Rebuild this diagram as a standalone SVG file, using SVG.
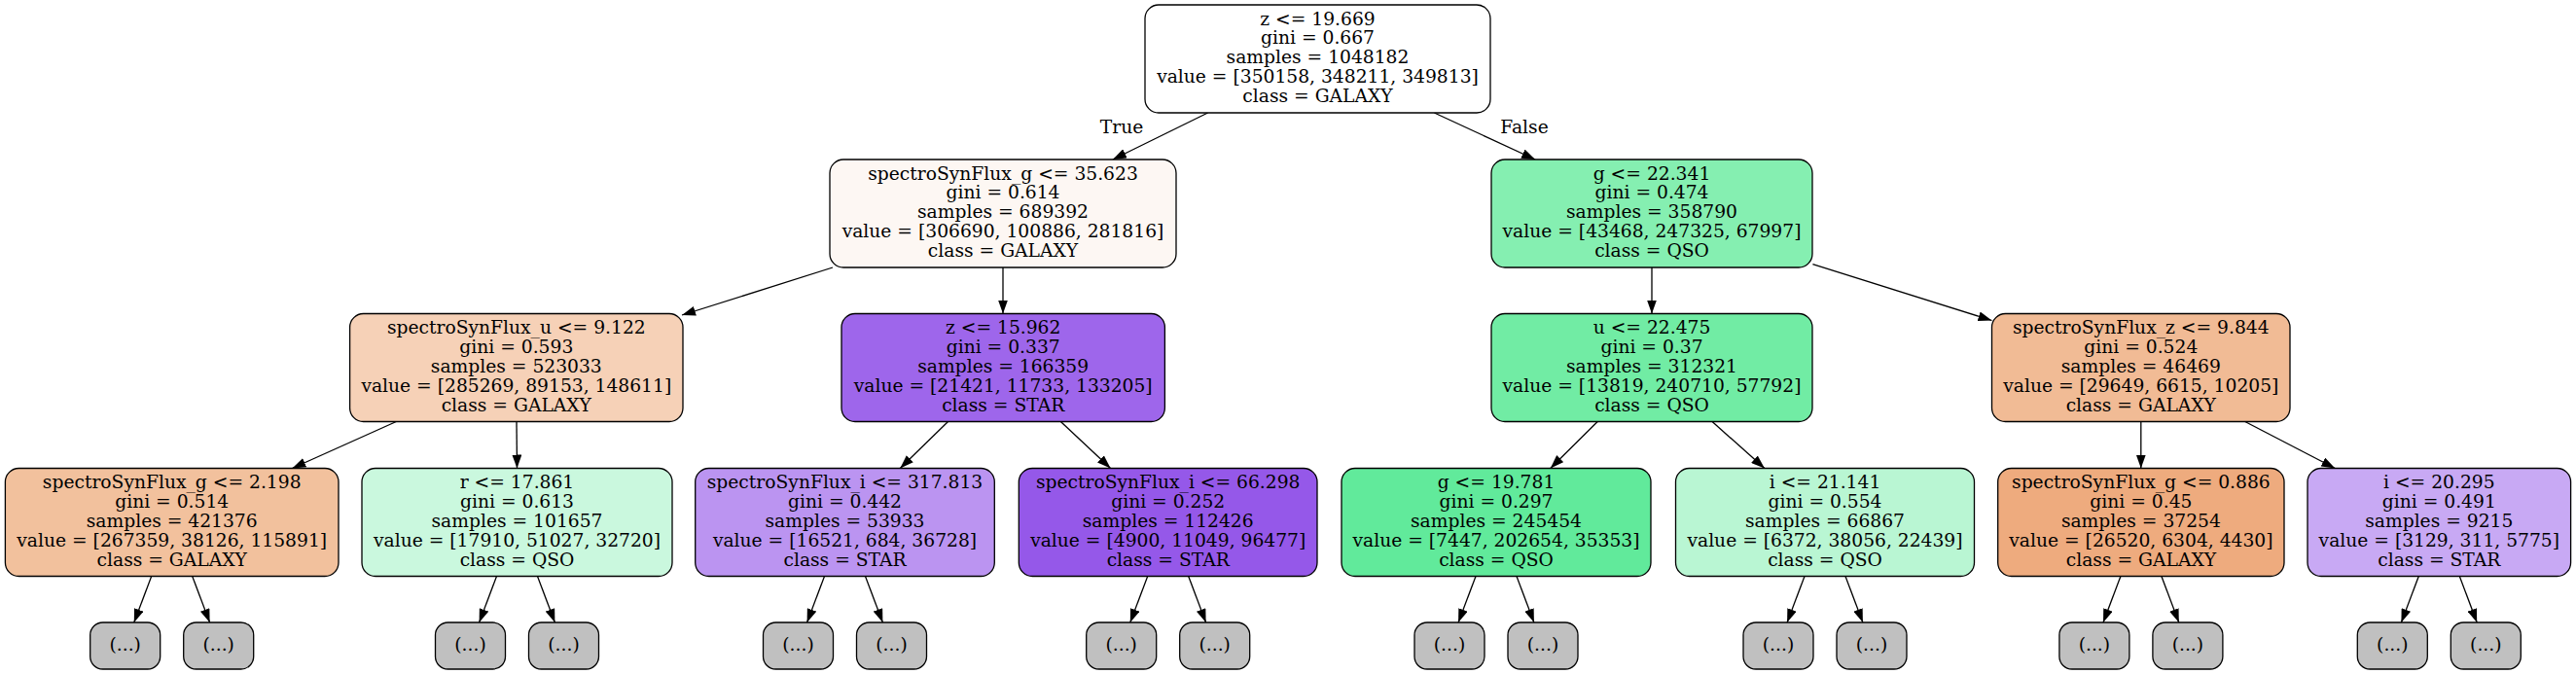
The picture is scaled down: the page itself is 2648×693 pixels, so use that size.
<svg xmlns="http://www.w3.org/2000/svg" width="2648" height="693" viewBox="0 0 2648 693">
<style>
.box{stroke:#000;stroke-width:1.3}
.leaf{fill:#c0c0c0;stroke:#000;stroke-width:1.3}
text{font-family:"DejaVu Serif","Liberation Serif",serif;font-size:18.7px;fill:#000;text-anchor:middle}
.edges line{stroke:#000;stroke-width:1.3}
</style>
<defs>
<marker id="ah" markerUnits="userSpaceOnUse" markerWidth="14" markerHeight="10" refX="14" refY="5" orient="auto">
<path d="M0,0 L14,5 L0,10 z" fill="#000"/>
</marker>
</defs>
<g class="edges" marker-end="url(#ah)">
<line x1="1241.6" y1="116" x2="1143.9" y2="164" marker-end="url(#ah)"/>
<line x1="1474.4" y1="116" x2="1578.1" y2="164" marker-end="url(#ah)"/>
<line x1="856" y1="275" x2="701" y2="324" marker-end="url(#ah)"/>
<line x1="1031" y1="275" x2="1031" y2="322.5" marker-end="url(#ah)"/>
<line x1="1698" y1="275" x2="1698" y2="322.5" marker-end="url(#ah)"/>
<line x1="1863.4" y1="271.6" x2="2047.5" y2="329.5" marker-end="url(#ah)"/>
<line x1="407.3" y1="433.5" x2="300.4" y2="481.5" marker-end="url(#ah)"/>
<line x1="531" y1="433.5" x2="531.5" y2="481.5" marker-end="url(#ah)"/>
<line x1="974.5" y1="433.5" x2="925.3" y2="481.5" marker-end="url(#ah)"/>
<line x1="1090.4" y1="433.5" x2="1141.6" y2="481.5" marker-end="url(#ah)"/>
<line x1="1642.2" y1="433.5" x2="1593.8" y2="481.5" marker-end="url(#ah)"/>
<line x1="1760.1" y1="433.5" x2="1813.9" y2="481.5" marker-end="url(#ah)"/>
<line x1="2200.8" y1="433.5" x2="2200.8" y2="481.5" marker-end="url(#ah)"/>
<line x1="2307.8" y1="433.5" x2="2400.3" y2="481.5" marker-end="url(#ah)"/>
<line x1="155.7" y1="592.5" x2="137.8" y2="640" marker-end="url(#ah)"/>
<line x1="197.7" y1="592.5" x2="215.6" y2="640" marker-end="url(#ah)"/>
<line x1="510.5" y1="592.5" x2="492.6" y2="640" marker-end="url(#ah)"/>
<line x1="552.5" y1="592.5" x2="570.4" y2="640" marker-end="url(#ah)"/>
<line x1="847.5" y1="592.5" x2="829.6" y2="640" marker-end="url(#ah)"/>
<line x1="889.5" y1="592.5" x2="907.4" y2="640" marker-end="url(#ah)"/>
<line x1="1179.7" y1="592.5" x2="1161.8" y2="640" marker-end="url(#ah)"/>
<line x1="1221.7" y1="592.5" x2="1239.6" y2="640" marker-end="url(#ah)"/>
<line x1="1517" y1="592.5" x2="1499.1" y2="640" marker-end="url(#ah)"/>
<line x1="1559" y1="592.5" x2="1576.9" y2="640" marker-end="url(#ah)"/>
<line x1="1855" y1="592.5" x2="1837.1" y2="640" marker-end="url(#ah)"/>
<line x1="1897" y1="592.5" x2="1914.9" y2="640" marker-end="url(#ah)"/>
<line x1="2179.9" y1="592.5" x2="2162" y2="640" marker-end="url(#ah)"/>
<line x1="2221.9" y1="592.5" x2="2239.8" y2="640" marker-end="url(#ah)"/>
<line x1="2486.3" y1="592.5" x2="2468.4" y2="640" marker-end="url(#ah)"/>
<line x1="2528.3" y1="592.5" x2="2546.2" y2="640" marker-end="url(#ah)"/>
<text x="1153" y="137">True</text>
<text x="1567" y="137">False</text>
</g>
<g id="n0"><rect class="box" x="1177" y="5" width="355" height="111" rx="14" fill="#ffffff"/>
<text y="25.5"><tspan x="1354.5">z &lt;= 19.669</tspan><tspan x="1354.5" dy="19.9">gini = 0.667</tspan><tspan x="1354.5" dy="19.9">samples = 1048182</tspan><tspan x="1354.5" dy="19.9">value = [350158, 348211, 349813]</tspan><tspan x="1354.5" dy="19.9">class = GALAXY</tspan></text></g>
<g id="n1"><rect class="box" x="853" y="164" width="356" height="111" rx="14" fill="#fdf7f3"/>
<text y="184.5"><tspan x="1031">spectroSynFlux_g &lt;= 35.623</tspan><tspan x="1031" dy="19.9">gini = 0.614</tspan><tspan x="1031" dy="19.9">samples = 689392</tspan><tspan x="1031" dy="19.9">value = [306690, 100886, 281816]</tspan><tspan x="1031" dy="19.9">class = GALAXY</tspan></text></g>
<g id="n8"><rect class="box" x="1533" y="164" width="330" height="111" rx="14" fill="#85efb1"/>
<text y="184.5"><tspan x="1698">g &lt;= 22.341</tspan><tspan x="1698" dy="19.9">gini = 0.474</tspan><tspan x="1698" dy="19.9">samples = 358790</tspan><tspan x="1698" dy="19.9">value = [43468, 247325, 67997]</tspan><tspan x="1698" dy="19.9">class = QSO</tspan></text></g>
<g id="n2"><rect class="box" x="359.6" y="322.5" width="342.4" height="111" rx="14" fill="#f6d1b7"/>
<text y="343"><tspan x="530.8">spectroSynFlux_u &lt;= 9.122</tspan><tspan x="530.8" dy="19.9">gini = 0.593</tspan><tspan x="530.8" dy="19.9">samples = 523033</tspan><tspan x="530.8" dy="19.9">value = [285269, 89153, 148611]</tspan><tspan x="530.8" dy="19.9">class = GALAXY</tspan></text></g>
<g id="n5"><rect class="box" x="865" y="322.5" width="332.4" height="111" rx="14" fill="#9e66eb"/>
<text y="343"><tspan x="1031.2">z &lt;= 15.962</tspan><tspan x="1031.2" dy="19.9">gini = 0.337</tspan><tspan x="1031.2" dy="19.9">samples = 166359</tspan><tspan x="1031.2" dy="19.9">value = [21421, 11733, 133205]</tspan><tspan x="1031.2" dy="19.9">class = STAR</tspan></text></g>
<g id="n9"><rect class="box" x="1533" y="322.5" width="330" height="111" rx="14" fill="#71eca4"/>
<text y="343"><tspan x="1698">u &lt;= 22.475</tspan><tspan x="1698" dy="19.9">gini = 0.37</tspan><tspan x="1698" dy="19.9">samples = 312321</tspan><tspan x="1698" dy="19.9">value = [13819, 240710, 57792]</tspan><tspan x="1698" dy="19.9">class = QSO</tspan></text></g>
<g id="n12"><rect class="box" x="2047.5" y="322.5" width="306.5" height="111" rx="14" fill="#f1bb95"/>
<text y="343"><tspan x="2200.8">spectroSynFlux_z &lt;= 9.844</tspan><tspan x="2200.8" dy="19.9">gini = 0.524</tspan><tspan x="2200.8" dy="19.9">samples = 46469</tspan><tspan x="2200.8" dy="19.9">value = [29649, 6615, 10205]</tspan><tspan x="2200.8" dy="19.9">class = GALAXY</tspan></text></g>
<g id="n3"><rect class="box" x="5.4" y="481.5" width="342.6" height="111" rx="14" fill="#f2c19d"/>
<text y="502"><tspan x="176.7">spectroSynFlux_g &lt;= 2.198</tspan><tspan x="176.7" dy="19.9">gini = 0.514</tspan><tspan x="176.7" dy="19.9">samples = 421376</tspan><tspan x="176.7" dy="19.9">value = [267359, 38126, 115891]</tspan><tspan x="176.7" dy="19.9">class = GALAXY</tspan></text></g>
<g id="n4"><rect class="box" x="372" y="481.5" width="319" height="111" rx="14" fill="#caf8de"/>
<text y="502"><tspan x="531.5">r &lt;= 17.861</tspan><tspan x="531.5" dy="19.9">gini = 0.613</tspan><tspan x="531.5" dy="19.9">samples = 101657</tspan><tspan x="531.5" dy="19.9">value = [17910, 51027, 32720]</tspan><tspan x="531.5" dy="19.9">class = QSO</tspan></text></g>
<g id="n6"><rect class="box" x="714.7" y="481.5" width="307.6" height="111" rx="14" fill="#bb94f1"/>
<text y="502"><tspan x="868.5">spectroSynFlux_i &lt;= 317.813</tspan><tspan x="868.5" dy="19.9">gini = 0.442</tspan><tspan x="868.5" dy="19.9">samples = 53933</tspan><tspan x="868.5" dy="19.9">value = [16521, 684, 36728]</tspan><tspan x="868.5" dy="19.9">class = STAR</tspan></text></g>
<g id="n7"><rect class="box" x="1047.3" y="481.5" width="306.7" height="111" rx="14" fill="#9558e9"/>
<text y="502"><tspan x="1200.7">spectroSynFlux_i &lt;= 66.298</tspan><tspan x="1200.7" dy="19.9">gini = 0.252</tspan><tspan x="1200.7" dy="19.9">samples = 112426</tspan><tspan x="1200.7" dy="19.9">value = [4900, 11049, 96477]</tspan><tspan x="1200.7" dy="19.9">class = STAR</tspan></text></g>
<g id="n10"><rect class="box" x="1379" y="481.5" width="318" height="111" rx="14" fill="#61ea9b"/>
<text y="502"><tspan x="1538">g &lt;= 19.781</tspan><tspan x="1538" dy="19.9">gini = 0.297</tspan><tspan x="1538" dy="19.9">samples = 245454</tspan><tspan x="1538" dy="19.9">value = [7447, 202654, 35353]</tspan><tspan x="1538" dy="19.9">class = QSO</tspan></text></g>
<g id="n11"><rect class="box" x="1722.5" y="481.5" width="307" height="111" rx="14" fill="#b9f6d3"/>
<text y="502"><tspan x="1876">i &lt;= 21.141</tspan><tspan x="1876" dy="19.9">gini = 0.554</tspan><tspan x="1876" dy="19.9">samples = 66867</tspan><tspan x="1876" dy="19.9">value = [6372, 38056, 22439]</tspan><tspan x="1876" dy="19.9">class = QSO</tspan></text></g>
<g id="n13"><rect class="box" x="2053.7" y="481.5" width="294.3" height="111" rx="14" fill="#eeab7e"/>
<text y="502"><tspan x="2200.9">spectroSynFlux_g &lt;= 0.886</tspan><tspan x="2200.9" dy="19.9">gini = 0.45</tspan><tspan x="2200.9" dy="19.9">samples = 37254</tspan><tspan x="2200.9" dy="19.9">value = [26520, 6304, 4430]</tspan><tspan x="2200.9" dy="19.9">class = GALAXY</tspan></text></g>
<g id="n14"><rect class="box" x="2372" y="481.5" width="270.6" height="111" rx="14" fill="#c8a9f4"/>
<text y="502"><tspan x="2507.3">i &lt;= 20.295</tspan><tspan x="2507.3" dy="19.9">gini = 0.491</tspan><tspan x="2507.3" dy="19.9">samples = 9215</tspan><tspan x="2507.3" dy="19.9">value = [3129, 311, 5775]</tspan><tspan x="2507.3" dy="19.9">class = STAR</tspan></text></g>
<g id="l3a"><rect class="leaf" x="92.7" y="640" width="72" height="48" rx="13"/><text x="128.7" y="669">(...)</text></g>
<g id="l3b"><rect class="leaf" x="188.7" y="640" width="72" height="48" rx="13"/><text x="224.7" y="669">(...)</text></g>
<g id="l4a"><rect class="leaf" x="447.5" y="640" width="72" height="48" rx="13"/><text x="483.5" y="669">(...)</text></g>
<g id="l4b"><rect class="leaf" x="543.5" y="640" width="72" height="48" rx="13"/><text x="579.5" y="669">(...)</text></g>
<g id="l6a"><rect class="leaf" x="784.5" y="640" width="72" height="48" rx="13"/><text x="820.5" y="669">(...)</text></g>
<g id="l6b"><rect class="leaf" x="880.5" y="640" width="72" height="48" rx="13"/><text x="916.5" y="669">(...)</text></g>
<g id="l7a"><rect class="leaf" x="1116.7" y="640" width="72" height="48" rx="13"/><text x="1152.7" y="669">(...)</text></g>
<g id="l7b"><rect class="leaf" x="1212.7" y="640" width="72" height="48" rx="13"/><text x="1248.7" y="669">(...)</text></g>
<g id="l10a"><rect class="leaf" x="1454" y="640" width="72" height="48" rx="13"/><text x="1490" y="669">(...)</text></g>
<g id="l10b"><rect class="leaf" x="1550" y="640" width="72" height="48" rx="13"/><text x="1586" y="669">(...)</text></g>
<g id="l11a"><rect class="leaf" x="1792" y="640" width="72" height="48" rx="13"/><text x="1828" y="669">(...)</text></g>
<g id="l11b"><rect class="leaf" x="1888" y="640" width="72" height="48" rx="13"/><text x="1924" y="669">(...)</text></g>
<g id="l13a"><rect class="leaf" x="2116.9" y="640" width="72" height="48" rx="13"/><text x="2152.9" y="669">(...)</text></g>
<g id="l13b"><rect class="leaf" x="2212.9" y="640" width="72" height="48" rx="13"/><text x="2248.9" y="669">(...)</text></g>
<g id="l14a"><rect class="leaf" x="2423.3" y="640" width="72" height="48" rx="13"/><text x="2459.3" y="669">(...)</text></g>
<g id="l14b"><rect class="leaf" x="2519.3" y="640" width="72" height="48" rx="13"/><text x="2555.3" y="669">(...)</text></g>
</svg>
